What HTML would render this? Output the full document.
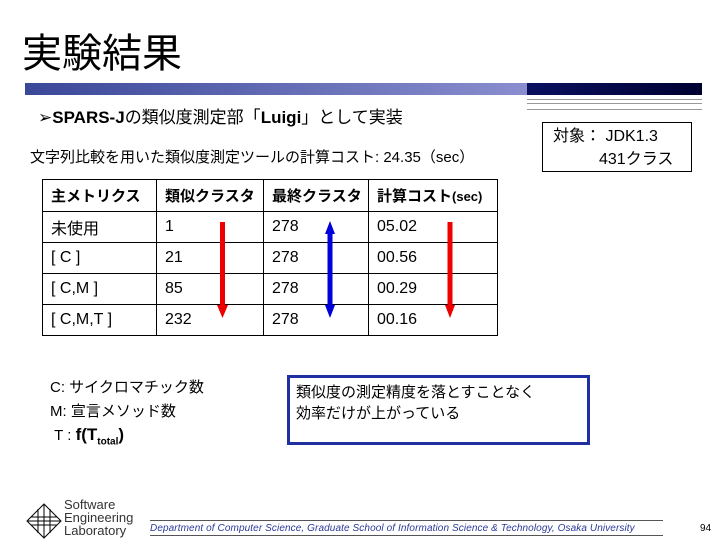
<!DOCTYPE html>
<html><head><meta charset="utf-8"><style>
body{margin:0}
#s{position:relative;width:720px;height:540px;background:#fff;overflow:hidden;font-family:"Liberation Sans","Noto Sans CJK JP",sans-serif;color:#000}
.a{position:absolute;white-space:nowrap}
table{border-collapse:collapse;position:absolute;left:42px;top:179px}
td{border:1px solid #000;font-size:16px;padding:0 0 0 8px;height:31px;box-sizing:border-box}
tr:first-child td{font-weight:bold;height:32px;font-size:15px}
</style></head><body>
<div id="s">
<div class="a" style="left:22px;top:29px;font-size:40px;line-height:50px">実験結果</div>
<div class="a" style="left:25px;top:83px;width:502px;height:12px;background:linear-gradient(90deg,#3a4898,#8a8ecf)"></div>
<div class="a" style="left:527px;top:83px;width:175px;height:12px;background:linear-gradient(90deg,#0a1060,#000030)"></div>
<div class="a" style="left:527px;top:99px;width:175px;height:9px;border-top:1px solid #999;border-bottom:1px solid #999"><div style="margin-top:3px;border-top:1px solid #999"></div></div>
<div class="a" style="left:38px;top:107px;font-size:17px;line-height:22px">➢<b>SPARS-J</b>の類似度測定部「<b>Luigi</b>」として実装</div>
<div class="a" style="left:30px;top:148px;font-size:15px;line-height:20px">文字列比較を用いた類似度測定ツールの計算コスト: 24.35（sec）</div>
<div class="a" style="left:542px;top:122px;width:150px;height:50px;border:1px solid #000;font-size:16px;line-height:23px;padding:2px 0 0 10px;box-sizing:border-box">対象： JDK1.3<br><span style="padding-left:46px">431クラス</span></div>
<table style="width:456px">
<tr><td style="width:114px">主メトリクス</td><td style="width:107px">類似クラスタ</td><td style="width:105px">最終クラスタ</td><td>計算コスト<span style="font-size:13px">(sec)</span></td></tr>
<tr><td>未使用</td><td>1</td><td>278</td><td>05.02</td></tr>
<tr><td>[ C ]</td><td>21</td><td>278</td><td>00.56</td></tr>
<tr><td>[ C,M ]</td><td>85</td><td>278</td><td>00.29</td></tr>
<tr><td>[ C,M,T ]</td><td>232</td><td>278</td><td>00.16</td></tr>
</table>
<svg class="a" style="left:0;top:0" width="720" height="540">
<g><rect x="220" y="222" width="5" height="85" fill="#e00"/><polygon points="217,305 228,305 222.5,318" fill="#e00"/></g>
<g><rect x="327.5" y="232" width="5" height="75" fill="#00d"/><polygon points="325,234 335,234 330,221" fill="#00d"/><polygon points="325,305 335,305 330,318" fill="#00d"/></g>
<g><rect x="447.5" y="222" width="5" height="85" fill="#e00"/><polygon points="445,305 455,305 450,318" fill="#e00"/></g>
</svg>
<div class="a" style="left:50px;top:376px;font-size:15px;line-height:23.5px">C: サイクロマチック数<br>M: 宣言メソッド数<br>&nbsp;T : <b style="font-size:17px">f(T<sub style="font-size:10px">total</sub>)</b></div>
<div class="a" style="left:287px;top:375px;width:303px;height:70px;border:3px solid #2030a0;box-sizing:border-box;font-size:15px;line-height:21px;padding:4px 0 0 6px">類似度の測定精度を落とすことなく<br>効率だけが上がっている</div>
<svg class="a" style="left:26px;top:503px" width="36" height="36"><polygon points="18,1 35,18 18,35 1,18" fill="none" stroke="#000"/><path d="M12,6V30M18,2V34M24,6V30M5,14H31M2,18H34M5,22H31" stroke="#000" fill="none" stroke-width="1"/></svg>
<div class="a" style="left:64px;top:498px;font-size:13px;line-height:13px;color:#333">Software<br>Engineering<br>Laboratory</div>
<div class="a" style="left:150px;top:520px;width:513px;border-top:1px solid #555"></div>
<div class="a" style="left:150px;top:523px;width:513px;font-size:10px;line-height:12px;font-style:italic;color:#2a3a9a;border-bottom:1px solid #555;letter-spacing:0.1px">Department of Computer Science, Graduate School of Information Science &amp; Technology, Osaka University</div>
<div class="a" style="left:700px;top:523px;font-size:10px">94</div>
</div>
</body></html>
